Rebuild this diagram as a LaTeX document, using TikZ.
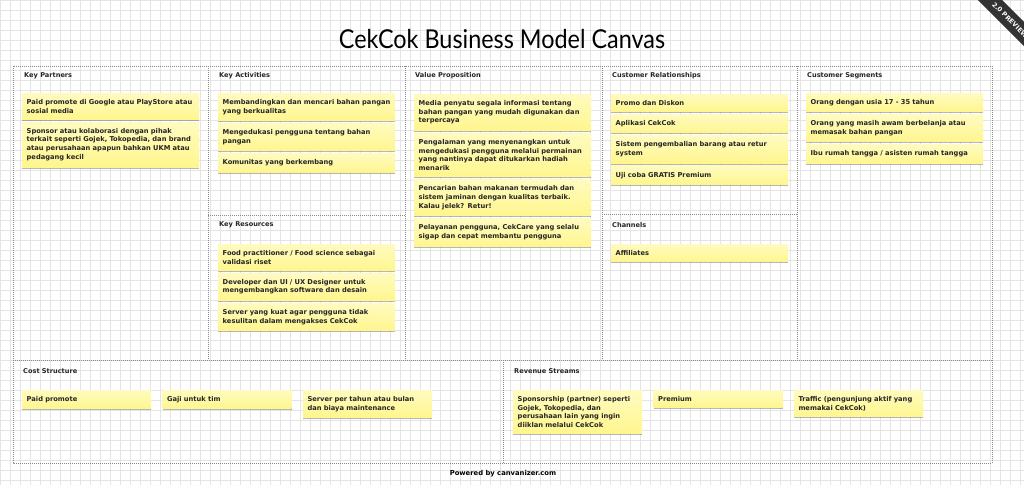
\documentclass[tikz,border=0pt]{standalone}
\usepackage{fontspec}
\setmainfont{DejaVu Sans}
\newfontfamily\titlefont{Lato}
\usetikzlibrary{positioning,shadows}

\definecolor{notefill}{HTML}{FFF68E}
\definecolor{notetop}{HTML}{FFFBC0}
\definecolor{inkgray}{HTML}{262626}
\definecolor{gridgray}{HTML}{E4E4E4}
\definecolor{borderdot}{HTML}{8A8A8A}
\definecolor{ribbon}{HTML}{333333}

\begin{document}
\begin{tikzpicture}[
    x=1pt, y=-1pt,
    node distance=2.5pt,
    note/.style={rectangle, top color=notetop, bottom color=notefill, text width=168pt, inner xsep=4.5pt, inner ysep=6pt, align=left, anchor=north west, font=\bfseries\fontsize{6.7}{8.8}\selectfont, text=inkgray, drop shadow={shadow xshift=0pt, shadow yshift=-1.5pt, fill=black!70, opacity=0.4}},
    smallnote/.style={note, text width=120pt},
    head/.style={anchor=west, inner sep=0pt, font=\bfseries\fontsize{6.6}{8}\selectfont, text=inkgray},
    block/.style={draw=borderdot, dash pattern=on 1pt off 1pt, line width=0.6pt}
]

% Background and grid
\useasboundingbox (0,0) rectangle (1024,485);
\fill[white] (0,0) rectangle (1024,485);
\draw[gridgray, line width=0.4pt, step=10pt] (0,0) grid (1024,485);

% Title
\node[font=\titlefont\fontsize{26}{30}\selectfont] (title) at (502,39) {\scalebox{0.9}[1]{CekCok Business Model Canvas}};

% Canvas blocks
\draw[block] (13,66) rectangle (992,463);
\draw[block] (208,66) -- (208,360);
\draw[block] (405,66) -- (405,360);
\draw[block] (602,66) -- (602,360);
\draw[block] (797,66) -- (797,360);
\draw[block] (13,360) -- (992,360);
\draw[block] (208,215) -- (405,215);
\draw[block] (602,214) -- (797,214);
\draw[block] (503,360) -- (503,463);

% Key Partners
\node[head] (kphead) at (24,76) {Key Partners};
\node[note] (kp1) at (22,93) {Paid promote di Google atau PlayStore atau\\sosial media};
\node[note, below=of kp1] (kp2) {Sponsor atau kolaborasi dengan pihak\\terkait seperti Gojek, Tokopedia, dan brand\\atau perusahaan apapun bahkan UKM atau\\pedagang kecil};

% Key Activities
\node[head] (kahead) at (219,76) {Key Activities};
\node[note] (ka1) at (218,93) {Membandingkan dan mencari bahan pangan\\yang berkualitas};
\node[note, below=of ka1] (ka2) {Mengedukasi pengguna tentang bahan\\pangan};
\node[note, below=of ka2] (ka3) {Komunitas yang berkembang};

% Key Resources
\node[head] (krhead) at (219,225) {Key Resources};
\node[note] (kr1) at (218,244) {Food practitioner / Food science sebagai\\validasi riset};
\node[note, below=of kr1] (kr2) {Developer dan UI / UX Designer untuk\\mengembangkan software dan desain};
\node[note, below=of kr2] (kr3) {Server yang kuat agar pengguna tidak\\kesulitan dalam mengakses CekCok};

% Value Proposition
\node[head] (vphead) at (415,76) {Value Proposition};
\node[note] (vp1) at (414,94) {Media penyatu segala informasi tentang\\bahan pangan yang mudah digunakan dan\\terpercaya};
\node[note, below=of vp1] (vp2) {Pengalaman yang menyenangkan untuk\\mengedukasi pengguna melalui permainan\\yang nantinya dapat ditukarkan hadiah\\menarik};
\node[note, below=of vp2] (vp3) {Pencarian bahan makanan termudah dan\\sistem jaminan dengan kualitas terbaik.\\Kalau jelek? Retur!};
\node[note, below=of vp3] (vp4) {Pelayanan pengguna, CekCare yang selalu\\sigap dan cepat membantu pengguna};

% Customer Relationships
\node[head] (crhead) at (612,76) {Customer Relationships};
\node[note] (cr1) at (611,94) {Promo dan Diskon};
\node[note, below=of cr1] (cr2) {Aplikasi CekCok};
\node[note, below=of cr2] (cr3) {Sistem pengembalian barang atau retur\\system};
\node[note, below=of cr3] (cr4) {Uji coba GRATIS Premium};

% Channels
\node[head] (chhead) at (612,225) {Channels};
\node[note] (ch1) at (611,244) {Affiliates};

% Customer Segments
\node[head] (cshead) at (807,76) {Customer Segments};
\node[note] (cs1) at (806,93) {Orang dengan usia 17 - 35 tahun};
\node[note, below=of cs1] (cs2) {Orang yang masih awam berbelanja atau\\memasak bahan pangan};
\node[note, below=of cs2] (cs3) {Ibu rumah tangga / asisten rumah tangga};

% Cost Structure
\node[head] (cthead) at (23,371) {Cost Structure};
\node[smallnote] (ct1) at (22,390) {Paid promote};
\node[smallnote, right=11pt of ct1.north east, anchor=north west] (ct2) {Gaji untuk tim};
\node[smallnote, right=11pt of ct2.north east, anchor=north west] (ct3) {Server per tahun atau bulan\\dan biaya maintenance};

% Revenue Streams
\node[head] (rshead) at (514,371) {Revenue Streams};
\node[smallnote] (rs1) at (513,390) {Sponsorship (partner) seperti\\Gojek, Tokopedia, dan\\perusahaan lain yang ingin\\diiklan melalui CekCok};
\node[smallnote, right=11pt of rs1.north east, anchor=north west] (rs2) {Premium};
\node[smallnote, right=11pt of rs2.north east, anchor=north west] (rs3) {Traffic (pengunjung aktif yang\\memakai CekCok)};

% Footer
\node[font=\bfseries\fontsize{6.8}{8}\selectfont] (powered) at (503,474) {Powered by canvanizer.com};

% Preview ribbon
\begin{scope}
\clip (0,0) rectangle (1024,485);
\node[fill=ribbon, text=white, rotate=-45, minimum width=150pt, minimum height=17pt, inner sep=0pt, font=\bfseries\fontsize{6.5}{7}\selectfont] (preview) at (1010,20) {2.0 PREVIEW};
\end{scope}

\end{tikzpicture}
\end{document}
